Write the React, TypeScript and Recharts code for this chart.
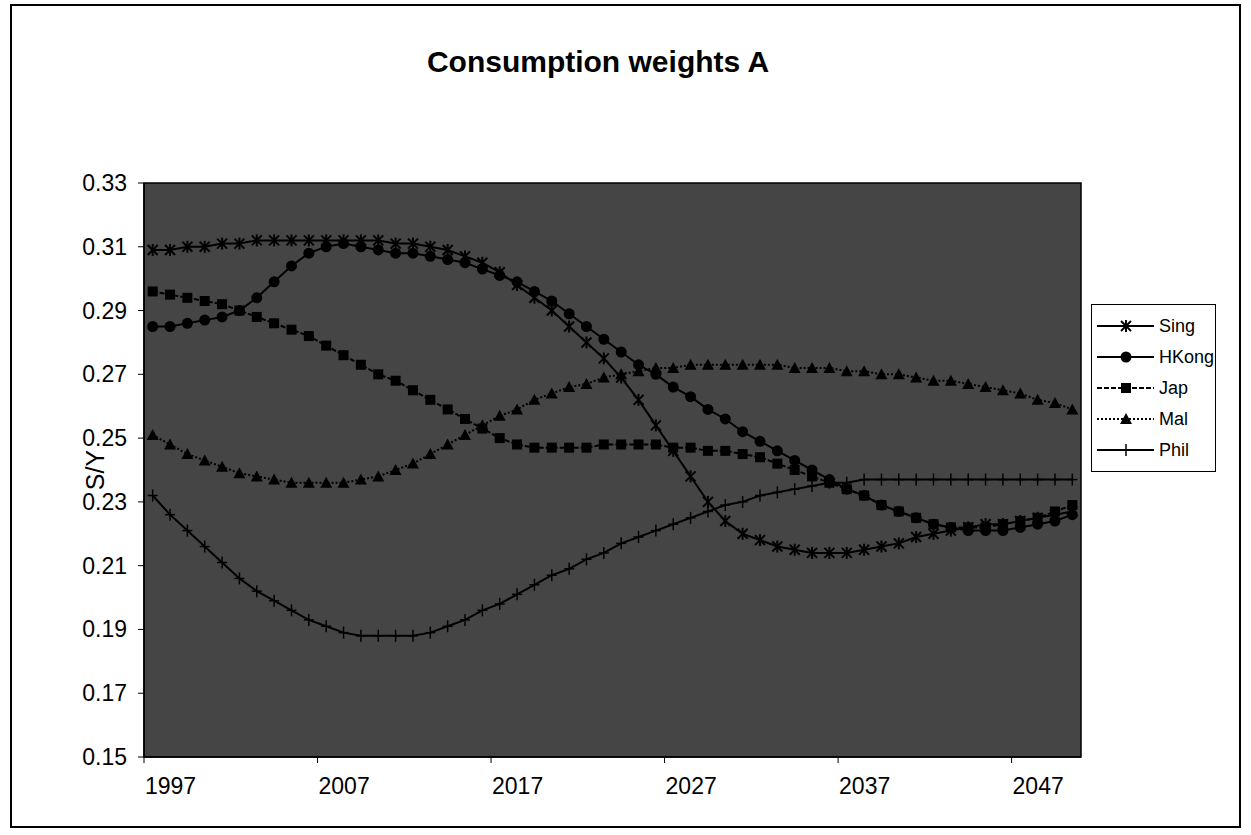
import React from 'react'
import { LineChart, Line, XAxis, YAxis, CartesianGrid, ReferenceArea } from 'recharts'

// yearly values, 1997 - 2050
const years = [
  1997, 1998, 1999, 2000, 2001, 2002, 2003, 2004, 2005, 2006,
  2007, 2008, 2009, 2010, 2011, 2012, 2013, 2014, 2015, 2016,
  2017, 2018, 2019, 2020, 2021, 2022, 2023, 2024, 2025, 2026,
  2027, 2028, 2029, 2030, 2031, 2032, 2033, 2034, 2035, 2036,
  2037, 2038, 2039, 2040, 2041, 2042, 2043, 2044, 2045, 2046,
  2047, 2048, 2049, 2050,
]

const sing = [
  0.309, 0.309, 0.310, 0.310, 0.311, 0.311, 0.312, 0.312, 0.312, 0.312,
  0.312, 0.312, 0.312, 0.312, 0.311, 0.311, 0.310, 0.309, 0.307, 0.305,
  0.302, 0.298, 0.294, 0.290, 0.285, 0.280, 0.275, 0.269, 0.262, 0.254,
  0.246, 0.238, 0.230, 0.224, 0.220, 0.218, 0.216, 0.215, 0.214, 0.214,
  0.214, 0.215, 0.216, 0.217, 0.219, 0.220, 0.221, 0.222, 0.223, 0.223,
  0.224, 0.225, 0.226, 0.227,
]

const hkong = [
  0.285, 0.285, 0.286, 0.287, 0.288, 0.290, 0.294, 0.299, 0.304, 0.308,
  0.310, 0.311, 0.310, 0.309, 0.308, 0.308, 0.307, 0.306, 0.305, 0.303,
  0.301, 0.299, 0.296, 0.293, 0.289, 0.285, 0.281, 0.277, 0.273, 0.270,
  0.266, 0.263, 0.259, 0.256, 0.252, 0.249, 0.246, 0.243, 0.240, 0.237,
  0.234, 0.232, 0.229, 0.227, 0.225, 0.223, 0.222, 0.221, 0.221, 0.221,
  0.222, 0.223, 0.224, 0.226,
]

const jap = [
  0.296, 0.295, 0.294, 0.293, 0.292, 0.290, 0.288, 0.286, 0.284, 0.282,
  0.279, 0.276, 0.273, 0.270, 0.268, 0.265, 0.262, 0.259, 0.256, 0.253,
  0.250, 0.248, 0.247, 0.247, 0.247, 0.247, 0.248, 0.248, 0.248, 0.248,
  0.247, 0.247, 0.246, 0.246, 0.245, 0.244, 0.242, 0.240, 0.238, 0.236,
  0.234, 0.232, 0.229, 0.227, 0.225, 0.223, 0.222, 0.222, 0.222, 0.223,
  0.224, 0.225, 0.227, 0.229,
]

const mal = [
  0.251, 0.248, 0.245, 0.243, 0.241, 0.239, 0.238, 0.237, 0.236, 0.236,
  0.236, 0.236, 0.237, 0.238, 0.240, 0.242, 0.245, 0.248, 0.251, 0.254,
  0.257, 0.259, 0.262, 0.264, 0.266, 0.267, 0.269, 0.270, 0.271, 0.272,
  0.272, 0.273, 0.273, 0.273, 0.273, 0.273, 0.273, 0.272, 0.272, 0.272,
  0.271, 0.271, 0.270, 0.270, 0.269, 0.268, 0.268, 0.267, 0.266, 0.265,
  0.264, 0.262, 0.261, 0.259,
]

const phil = [
  0.232, 0.226, 0.221, 0.216, 0.211, 0.206, 0.202, 0.199, 0.196, 0.193,
  0.191, 0.189, 0.188, 0.188, 0.188, 0.188, 0.189, 0.191, 0.193, 0.196,
  0.198, 0.201, 0.204, 0.207, 0.209, 0.212, 0.214, 0.217, 0.219, 0.221,
  0.223, 0.225, 0.227, 0.229, 0.230, 0.232, 0.233, 0.234, 0.235, 0.236,
  0.236, 0.237, 0.237, 0.237, 0.237, 0.237, 0.237, 0.237, 0.237, 0.237,
  0.237, 0.237, 0.237, 0.237,
]

const yTicks = [0.15, 0.17, 0.19, 0.21, 0.23, 0.25, 0.27, 0.29, 0.31, 0.33]
const xTickLabels = ['1997', '2007', '2017', '2027', '2037', '2047']

const series = [
  { name: 'Sing', values: sing, shape: 'asterisk', dash: undefined },
  { name: 'HKong', values: hkong, shape: 'circle', dash: undefined },
  { name: 'Jap', values: jap, shape: 'square', dash: '5 2' },
  { name: 'Mal', values: mal, shape: 'triangle', dash: '2 2' },
  { name: 'Phil', values: phil, shape: 'plus', dash: undefined },
]

const data = years.map((year, i) => {
  const row: Record<string, number> = { year }
  series.forEach(s => { row[s.name] = s.values[i] })
  return row
})

// category boundaries sit half a year before each label
const xTicks = xTickLabels.map(l => Number(l) - 0.5)

const FONT = '"Liberation Sans", Arial, sans-serif'

function Marker({ shape, x, y }: { shape: string; x: number; y: number }) {
  switch (shape) {
    case 'asterisk':
      return (
        <g stroke="#000" strokeWidth={2}>
          <line x1={x - 5} y1={y - 5} x2={x + 5} y2={y + 5} />
          <line x1={x - 5} y1={y + 5} x2={x + 5} y2={y - 5} />
          <line x1={x} y1={y - 6} x2={x} y2={y + 6} />
        </g>
      )
    case 'circle':
      return <circle cx={x} cy={y} r={5.5} fill="#000" />
    case 'square':
      return <rect x={x - 5} y={y - 5} width={10} height={10} fill="#000" />
    case 'triangle':
      return <polygon points={`${x},${y - 6} ${x + 6},${y + 5} ${x - 6},${y + 5}`} fill="#000" />
    default:
      return (
        <g stroke="#000" strokeWidth={1.5}>
          <line x1={x - 5} y1={y} x2={x + 5} y2={y} />
          <line x1={x} y1={y - 6} x2={x} y2={y + 6} />
        </g>
      )
  }
}

const dotFor = (shape: string) => (props: any) => {
  const { cx, cy, index } = props
  if (cx == null || cy == null) return <g key={`${shape}-${index}`} />
  return (
    <g key={`${shape}-${index}`}>
      <Marker shape={shape} x={cx} y={cy} />
    </g>
  )
}

const XTick = (props: any) => {
  const { x, y, payload } = props
  return (
    <text x={x + 1} y={y} dy={29} textAnchor="start" fontSize={23} fill="#000" fontFamily={FONT}>
      {String(Math.round(payload.value + 0.5))}
    </text>
  )
}

const YTick = (props: any) => {
  const { x, y, payload } = props
  return (
    <text x={x - 9} y={y} dy={8} textAnchor="end" fontSize={23} fill="#000" fontFamily={FONT}>
      {Number(payload.value).toFixed(2)}
    </text>
  )
}

const LegendBox = () => (
  <div
    style={{
      position: 'absolute', left: 1079, top: 298, width: 125, height: 168,
      border: '1.5px solid #000', background: '#fff', boxSizing: 'border-box',
    }}
  >
    <svg width={122} height={165}>
      {series.map((s, i) => {
        const cy = 21 + i * 31
        return (
          <g key={s.name}>
            <line x1={5} y1={cy} x2={62} y2={cy} stroke="#000" strokeWidth={2} strokeDasharray={s.dash} />
            <Marker shape={s.shape} x={34} y={cy} />
            <text x={67} y={cy} dy={6} fontSize={18} fontFamily={FONT} fill="#000">{s.name}</text>
          </g>
        )
      })}
    </svg>
  </div>
)

export default function App() {
  return (
    <div
      style={{
        position: 'absolute', left: 10, top: 4, width: 1231, height: 824,
        border: '2px solid #000', boxSizing: 'border-box', background: '#fff', fontFamily: FONT,
      }}
    >
      <div
        style={{
          position: 'absolute', left: 0, top: 41, width: 1172, textAlign: 'center',
          fontSize: 30, lineHeight: '30px', fontWeight: 'bold', color: '#000',
        }}
      >
        Consumption weights A
      </div>
      <div
        style={{
          position: 'absolute', left: 53, top: 449, width: 60, height: 30, lineHeight: '30px',
          textAlign: 'center', fontSize: 25, transform: 'rotate(-90deg)', color: '#000',
        }}
      >
        S/Y
      </div>
      <LineChart width={1227} height={820} data={data} margin={{ top: 177, right: 158, bottom: 0, left: 0 }}>
        <CartesianGrid horizontal={false} vertical={false} fill="#454545" />
        <XAxis
          dataKey="year"
          type="number"
          domain={[1996.5, 2050.5]}
          ticks={xTicks}
          interval={0}
          height={69}
          tick={<XTick />}
          tickSize={6}
          axisLine={{ stroke: '#000', strokeWidth: 1.5 }}
          tickLine={{ stroke: '#000' }}
        />
        <YAxis
          type="number"
          domain={[0.15, 0.33]}
          ticks={yTicks}
          interval={0}
          width={132}
          tick={<YTick />}
          tickSize={6}
          axisLine={{ stroke: '#000', strokeWidth: 1.5 }}
          tickLine={{ stroke: '#000' }}
        />
        <ReferenceArea x1={1996.5} x2={2050.5} y1={0.15} y2={0.33} fill="none" stroke="#000" strokeWidth={1.5} />
        {series.map(s => (
          <Line
            key={s.name}
            type="linear"
            dataKey={s.name}
            stroke="#000"
            strokeWidth={2}
            strokeDasharray={s.dash}
            dot={dotFor(s.shape)}
            activeDot={false}
            isAnimationActive={false}
          />
        ))}
      </LineChart>
      <LegendBox />
    </div>
  )
}
